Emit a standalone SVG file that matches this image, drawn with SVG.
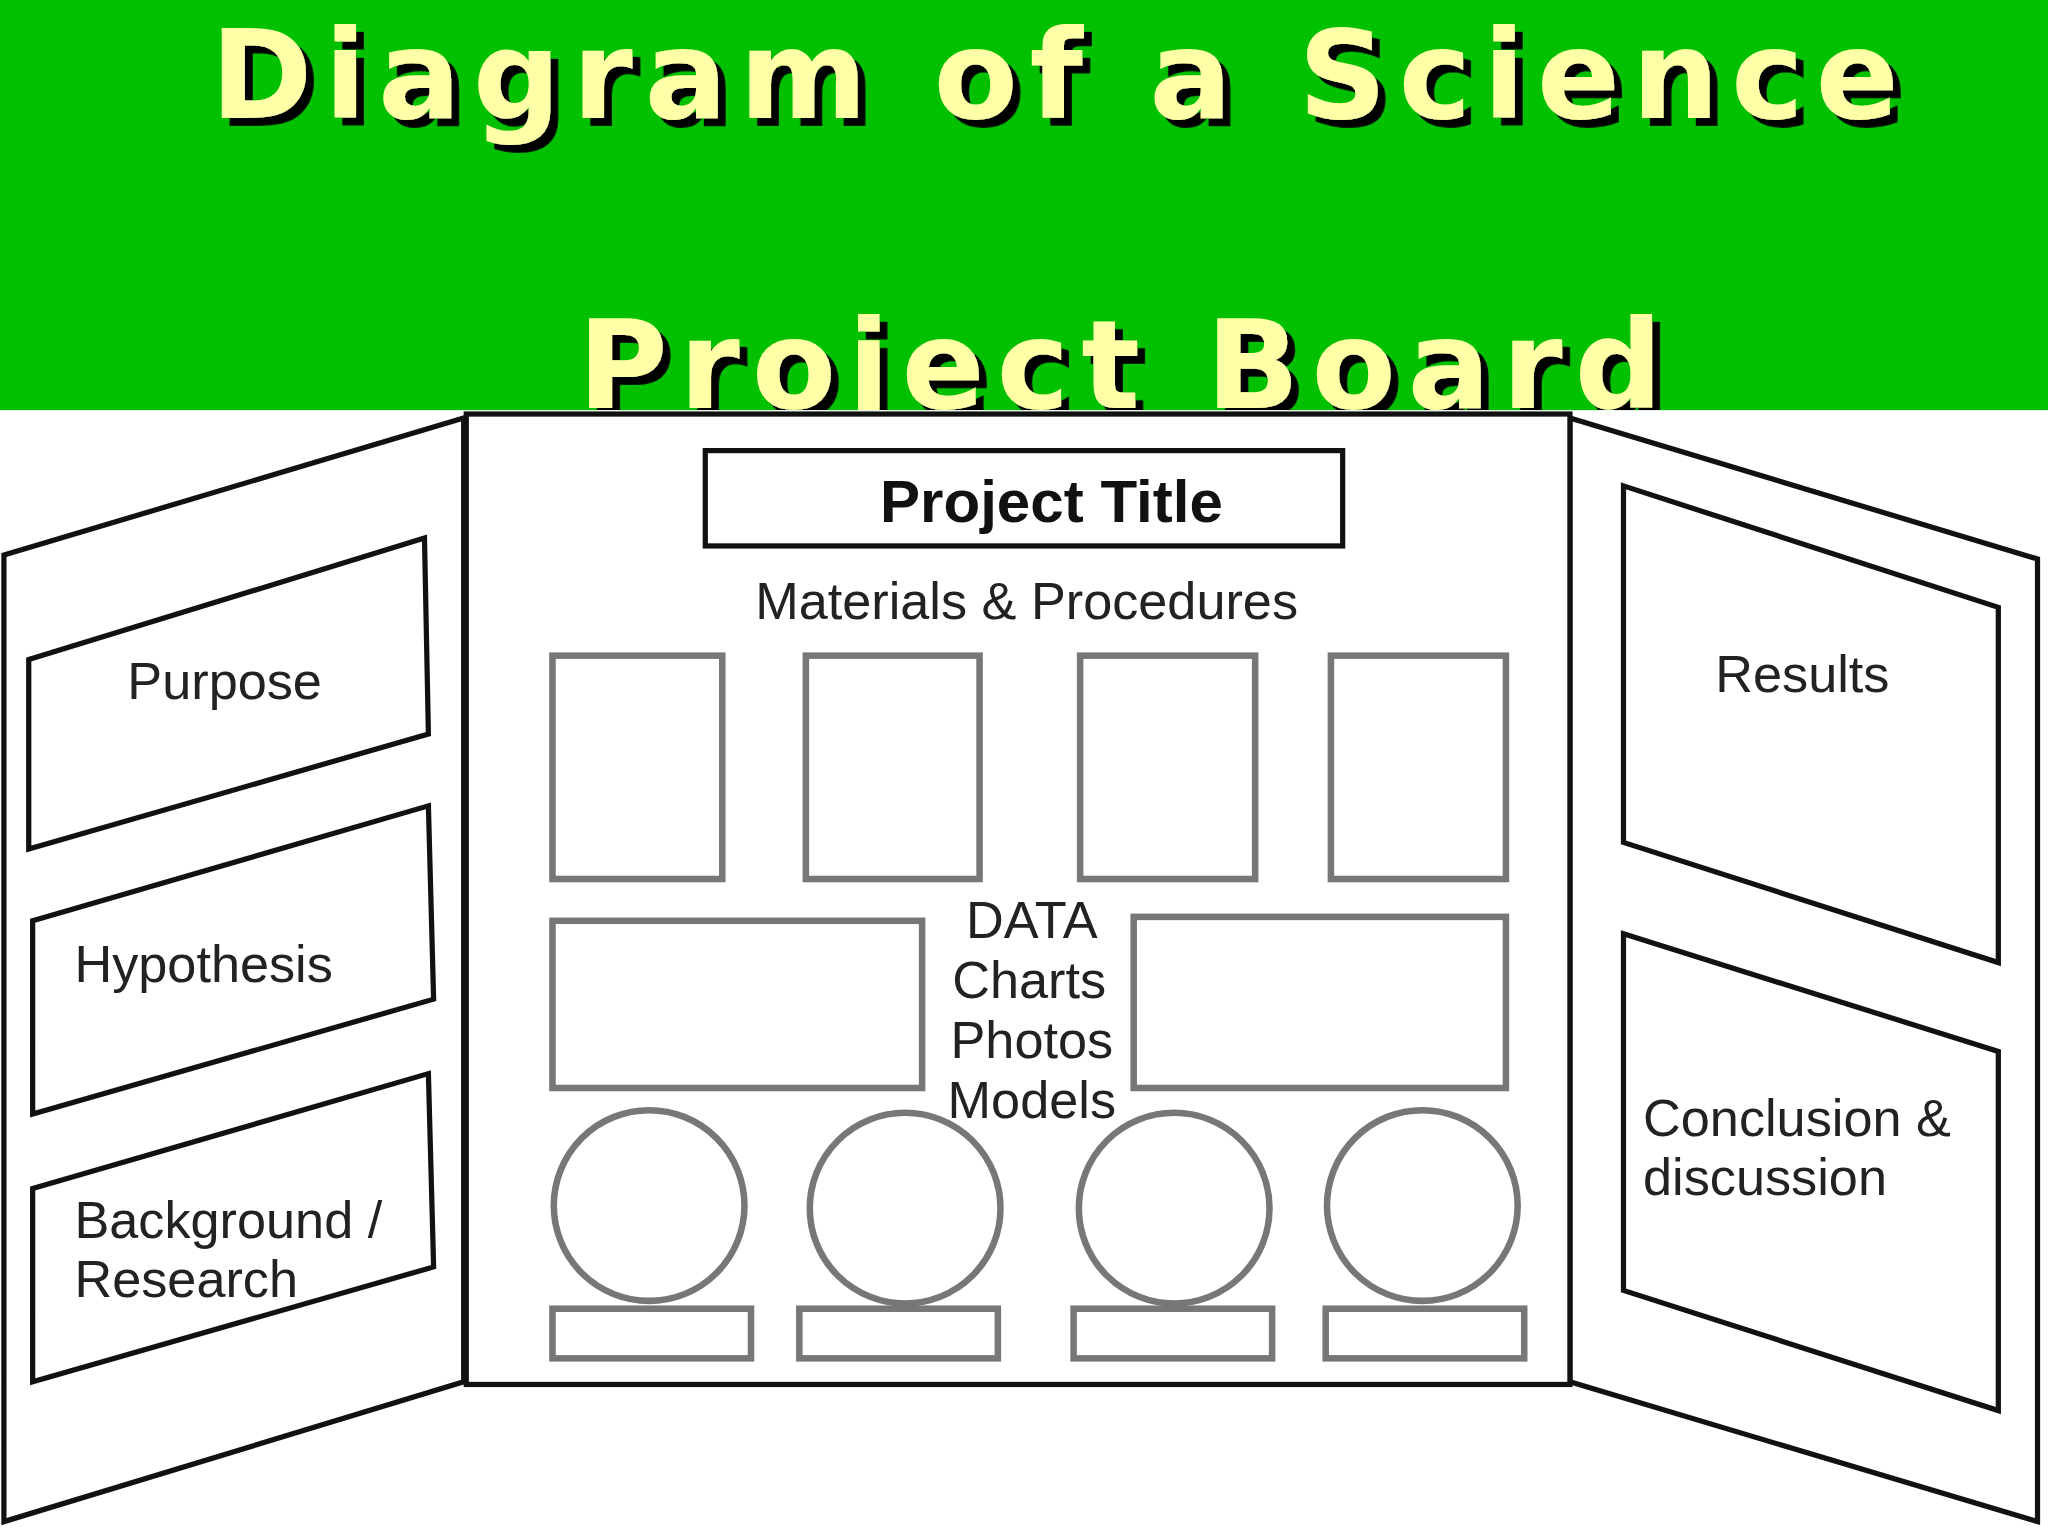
<svg xmlns="http://www.w3.org/2000/svg" width="2048" height="1536" viewBox="0 0 2048 1536">
<style>
.t{font-family:"DejaVu Sans","Liberation Sans",sans-serif;font-weight:bold;font-size:94px;fill:#ffffa8;letter-spacing:9px;filter:url(#sh)}
.p{fill:#fff;stroke:#111;stroke-width:4}
.b{fill:#fff;stroke:#777;stroke-width:5}
.l{font-family:"Liberation Sans",Arial,sans-serif;font-size:40px;fill:#222}
</style>
<defs>
<clipPath id="hc"><rect x="0" y="0" width="1568" height="314"/></clipPath>
<filter id="sh" x="-5%" y="-20%" width="110%" height="140%"><feDropShadow dx="6" dy="6" stdDeviation="0" flood-color="#000"/></filter>
</defs>
<rect width="2048" height="1536" fill="#fff"/>
<g transform="scale(1.3061)">
<g id="header">
<rect x="0" y="0" width="1568" height="314" fill="#00c000"/>
<g clip-path="url(#hc)" text-anchor="middle">
<text class="t" x="812" y="90">Diagram of a Science</text>
<text class="t" x="862" y="312">Project Board</text>
</g>
</g>
<g id="left">
<polygon class="p" points="3,425 355,320 355,1058 3,1165"/>
<polygon class="p" points="22,505 325,412 328,562 22,650"/>
<polygon class="p" points="25,705 328,617 332,765 25,853"/>
<polygon class="p" points="25,910 328,822 332,970 25,1058"/>
<text class="l" x="172" y="535" text-anchor="middle">Purpose</text>
<text class="l" x="57" y="752">Hypothesis</text>
<text class="l" x="57" y="948">Background /</text>
<text class="l" x="57" y="993">Research</text>
</g>
<g id="right">
<polygon class="p" points="1202,320 1560,428 1560,1165 1202,1058"/>
<polygon class="p" points="1243,372 1530,465 1530,737 1243,645"/>
<polygon class="p" points="1243,715 1530,805 1530,1080 1243,988"/>
<text class="l" x="1380" y="530" text-anchor="middle">Results</text>
<text class="l" x="1258" y="870">Conclusion &amp;</text>
<text class="l" x="1258" y="915">discussion</text>
</g>
<g id="center">
<rect class="p" x="357" y="317" width="845" height="743"/>
<rect class="p" x="540" y="345" width="488" height="73"/>
<text x="805" y="400" text-anchor="middle" style="font-family:'Liberation Sans',Arial,sans-serif;font-weight:bold;font-size:46px;fill:#111">Project Title</text>
<text class="l" x="786" y="474" text-anchor="middle" fill="#444">Materials &amp; Procedures</text>
<rect class="b" x="423" y="502" width="130" height="171"/>
<rect class="b" x="617" y="502" width="133" height="171"/>
<rect class="b" x="827" y="502" width="134" height="171"/>
<rect class="b" x="1019" y="502" width="134" height="171"/>
<rect class="b" x="423" y="705" width="283" height="128"/>
<rect class="b" x="868" y="702" width="285" height="131"/>
<g text-anchor="middle">
<text class="l" x="790" y="718">DATA</text>
<text class="l" x="788" y="764">Charts</text>
<text class="l" x="790" y="810">Photos</text>
<text class="l" x="790" y="856">Models</text>
</g>
<circle class="b" cx="497" cy="923" r="73"/>
<circle class="b" cx="693" cy="925" r="73"/>
<circle class="b" cx="899" cy="925" r="73"/>
<circle class="b" cx="1089" cy="923" r="73"/>
<rect class="b" x="423" y="1002" width="152" height="38"/>
<rect class="b" x="612" y="1002" width="152" height="38"/>
<rect class="b" x="822" y="1002" width="152" height="38"/>
<rect class="b" x="1015" y="1002" width="152" height="38"/>
</g>
</g>
</svg>
